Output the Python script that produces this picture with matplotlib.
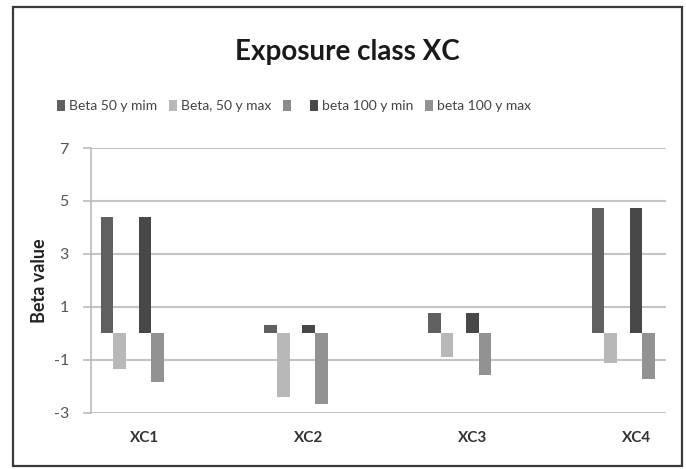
import matplotlib
matplotlib.use("Agg")
import matplotlib.pyplot as plt
from matplotlib.patches import Rectangle
import numpy as np

categories = ["XC1", "XC2", "XC3", "XC4"]
series_labels = ["Beta 50 y mim", "Beta, 50 y max", "", "beta 100 y min", "beta 100 y max"]
beta50_min = [4.40, 0.30, 0.78, 4.72]
beta50_max = [-1.35, -2.39, -0.88, -1.13]
blank_series = [0, 0, 0, 0]
beta100_min = [4.40, 0.30, 0.78, 4.72]
beta100_max = [-1.85, -2.67, -1.57, -1.72]
yticks = [-3, -1, 1, 3, 5, 7]

series_values = [beta50_min, beta50_max, blank_series, beta100_min, beta100_max]
colors = ["#606060", "#b8b8b8", "#8c8c8c", "#484848", "#929292"]
slots = [0, 1, 2, 3, 4]

plt.rcParams['font.family'] = ['Lato', 'DejaVu Sans']

fig = plt.figure(figsize=(6.86, 4.69), dpi=100)
ax = fig.add_axes([91/686, 1-412.7/469, (666-91)/686, (412.7-148)/469])

x = np.arange(len(categories))
bw = 0.0776
handles = []
for vals, col, k, lab in zip(series_values, colors, slots, series_labels):
    b = ax.bar(x + (k - 3) * bw, vals, width=bw, color=col, linewidth=0, zorder=3,
               label=lab if lab else " ")
    handles.append(b)

ax.set_ylim(-3, 7)
ax.set_xlim(-0.33, 3.183)
ax.set_yticks(yticks)
ax.set_yticklabels([str(t) for t in yticks], fontsize=11.5, color="#555555")
ax.set_xticks(x)
ax.set_xticklabels(categories, fontsize=11, fontweight="bold", color="#333333")
ax.tick_params(axis="x", length=0, pad=13)
ax.tick_params(axis="y", length=6, width=1.2, color="#bbbbbb", pad=10, direction="out")
ax.yaxis.grid(True, color="#c4c4c4", linewidth=1.5, zorder=0)
ax.set_axisbelow(True)
for s in ["top", "right", "bottom"]:
    ax.spines[s].set_visible(False)
ax.spines["left"].set_color("#bbbbbb")
ax.spines["left"].set_linewidth(1.2)
ax.set_ylabel("Beta value", fontsize=13, fontweight="bold", color="#222222", labelpad=4)

fig.text(347/686, 1-52/469, "Exposure class XC", ha="center", va="center",
         fontsize=20, fontweight="bold", color="#1a1a1a")

leg = ax.legend(handles=handles, labels=[l if l else " " for l in series_labels],
                loc="center", bbox_to_anchor=(294/686, 1-106/469), bbox_transform=fig.transFigure,
                ncol=5, frameon=False, fontsize=10, handlelength=0.6, handleheight=0.8,
                handletextpad=0.3, columnspacing=0.8, labelcolor="#444444")

fig.patches.append(Rectangle((13/686, 1-466/469), (682-13)/686, (466-7)/469,
                             transform=fig.transFigure, fill=False, edgecolor="#3a3a3a",
                             linewidth=1.6, zorder=10))

fig.savefig("out.png", dpi=100)
